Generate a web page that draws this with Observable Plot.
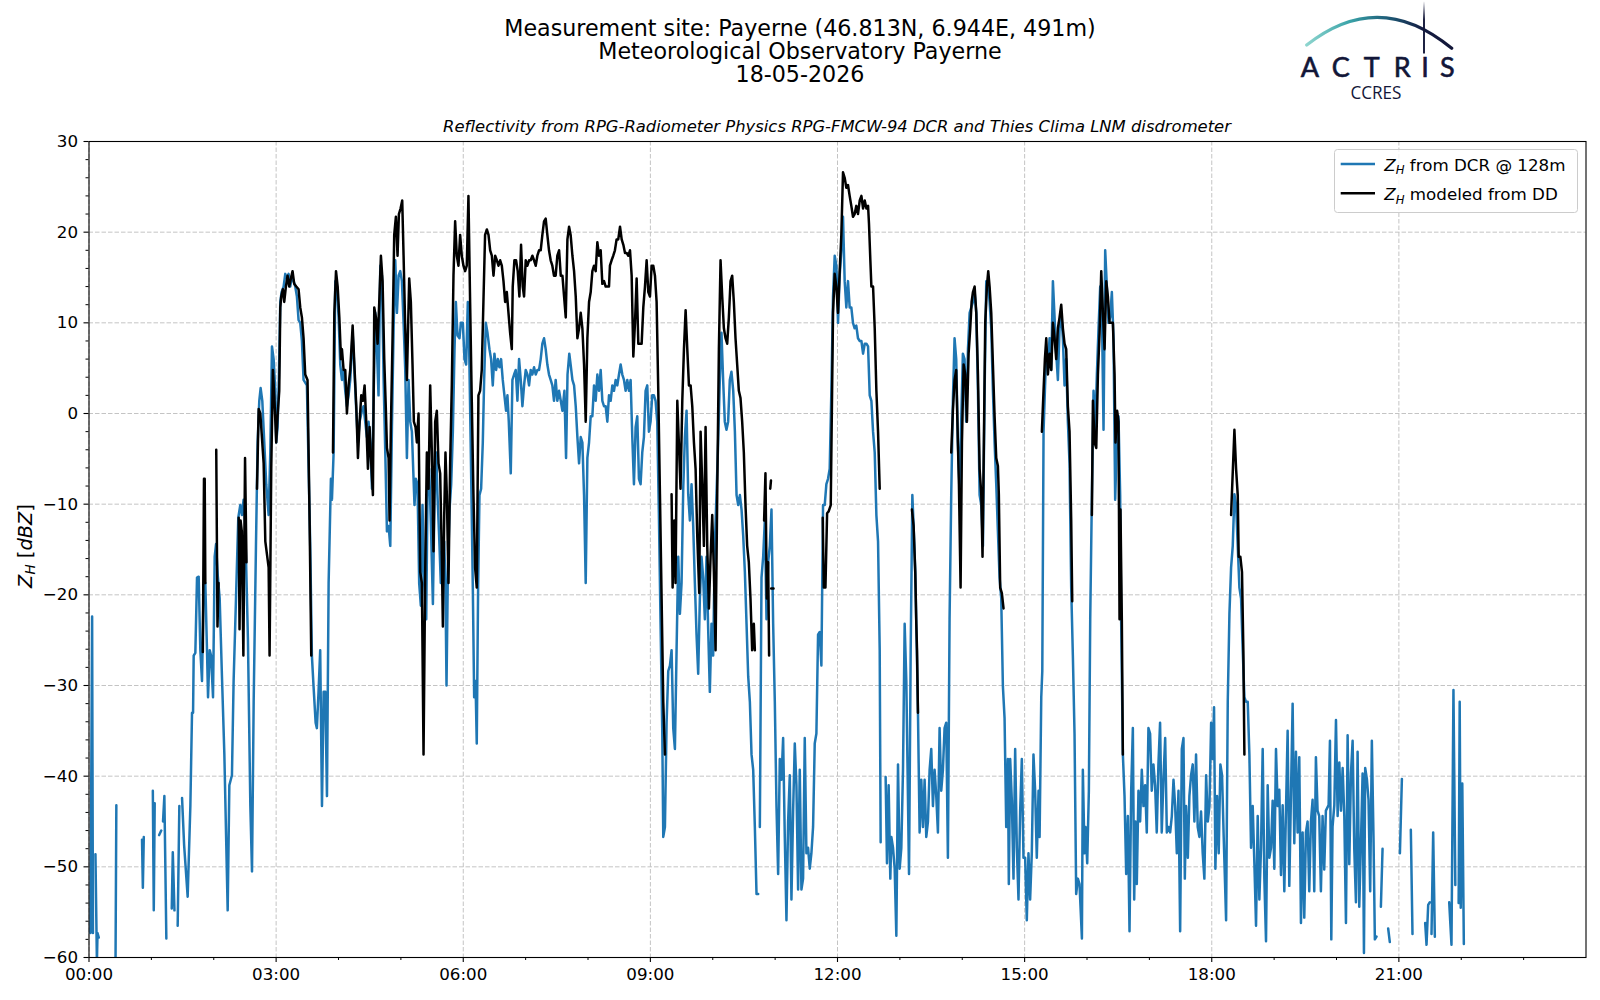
<!DOCTYPE html>
<html>
<head>
<meta charset="utf-8">
<script src="https://cdn.jsdelivr.net/npm/d3@7"></script>
<script src="https://cdn.jsdelivr.net/npm/@observablehq/plot@0.6"></script>
<style>
  html, body { margin: 0; padding: 0; background: #fff; overflow: hidden; }
  #wrap { position: relative; width: 1600px; height: 1000px; }
  #chart { position: absolute; left: 0; top: 0; }
  #overlay { position: absolute; left: 0; top: 0; pointer-events: none; }
  text { font-family: "DejaVu Sans", sans-serif; }
</style>
</head>
<body>
<div id="wrap">
  <div id="chart"></div>
  <svg id="overlay" width="1600" height="1000" xmlns="http://www.w3.org/2000/svg">
    <defs>
      <linearGradient id="arcGrad" x1="1306" y1="0" x2="1452" y2="0" gradientUnits="userSpaceOnUse">
        <stop offset="0" stop-color="#8fd6cf"/>
        <stop offset="0.3" stop-color="#3aa3a8"/>
        <stop offset="0.55" stop-color="#1f5f7a"/>
        <stop offset="0.8" stop-color="#141c42"/>
        <stop offset="1" stop-color="#121638"/>
      </linearGradient>
      <linearGradient id="barGrad" x1="0" y1="1" x2="0" y2="54" gradientUnits="userSpaceOnUse">
        <stop offset="0" stop-color="#121638" stop-opacity="0"/>
        <stop offset="0.35" stop-color="#121638" stop-opacity="1"/>
        <stop offset="1" stop-color="#121638" stop-opacity="1"/>
      </linearGradient>
    </defs>
    <!-- titles -->
    <text x="800" y="36.2" text-anchor="middle" font-size="22.2">Measurement site: Payerne (46.813N, 6.944E, 491m)</text>
    <text x="800" y="58.9" text-anchor="middle" font-size="22.2">Meteorological Observatory Payerne</text>
    <text x="800" y="82" text-anchor="middle" font-size="22.2">18-05-2026</text>
    <text x="837" y="131.5" text-anchor="middle" font-size="16.4" font-style="italic">Reflectivity from RPG-Radiometer Physics RPG-FMCW-94 DCR and Thies Clima LNM disdrometer</text>
    <!-- y label -->
    <text transform="translate(31.5,546) rotate(-90)" text-anchor="middle" font-size="19.4"><tspan font-style="italic">Z</tspan><tspan font-style="italic" font-size="13.6" dy="3.8">H</tspan><tspan dy="-3.8"> [</tspan><tspan font-style="italic">dBZ</tspan><tspan>]</tspan></text>
    <!-- legend -->
    <rect x="1334.5" y="149.5" width="243" height="63" rx="3" ry="3" fill="#fff" fill-opacity="0.8" stroke="#cccccc" stroke-width="1"/>
    <line x1="1340.7" y1="164" x2="1375" y2="164" stroke="#1f77b4" stroke-width="2.5"/>
    <line x1="1340.7" y1="193.3" x2="1375" y2="193.3" stroke="#000" stroke-width="2.5"/>
    <text x="1384.3" y="170.6" font-size="16.7"><tspan font-style="italic">Z</tspan><tspan font-style="italic" font-size="11.7" dy="3.3">H</tspan><tspan dy="-3.3"> from DCR @ 128m</tspan></text>
    <text x="1384.3" y="200.3" font-size="16.7"><tspan font-style="italic">Z</tspan><tspan font-style="italic" font-size="11.7" dy="3.3">H</tspan><tspan dy="-3.3"> modeled from DD</tspan></text>
    <!-- logo -->
    <path d="M1306.7,45 Q1379,-12 1451.7,48.3" fill="none" stroke="url(#arcGrad)" stroke-width="3.2" stroke-linecap="round"/>
    <line x1="1424" y1="1.5" x2="1424" y2="53.5" stroke="url(#barGrad)" stroke-width="1.9"/>
    <text x="1310 1340.7 1371.7 1402.3 1425 1447.3" y="76.5" text-anchor="middle" font-size="27" fill="#121638" stroke="#121638" stroke-width="0.6" style="font-family: Lato, 'Open Sans', sans-serif;">ACTRIS</text>
    <text x="1376" y="99.3" text-anchor="middle" font-size="17.5" fill="#121638" textLength="51" lengthAdjust="spacingAndGlyphs" style="font-family: 'Open Sans', sans-serif;">CCRES</text>
  </svg>
</div>
<script>
// ---- tick values & labels ----
const xMajorTicks = [0, 180, 360, 540, 720, 900, 1080, 1260];
const xTickLabels = ["00:00", "03:00", "06:00", "09:00", "12:00", "15:00", "18:00", "21:00"];
const xMinorTicks = [60, 120, 240, 300, 420, 480, 600, 660, 780, 840, 960, 1020, 1140, 1200, 1320, 1380];
const yMajorTicks = [-60, -50, -40, -30, -20, -10, 0, 10, 20, 30];
const yMinorTicks = [-58,-56,-54,-52,-48,-46,-44,-42,-38,-36,-34,-32,-28,-26,-24,-22,-18,-16,-14,-12,-8,-6,-4,-2,2,4,6,8,12,14,16,18,22,24,26,28];

// ---- series: [minutes since 00:00 UTC, dBZ]; null = gap ----
const dcrZH = [
[1.4,-57.3],[3.0,-22.4],[3.8,-57.3],null,
[6.2,-48.6],[7.6,-60.5],[8.2,-57.3],[9.4,-57.8],null,
[25.5,-61],[26.3,-43.2],null,
[51.0,-47.0],[51.8,-52.3],[52.7,-46.7],null,
[61.4,-41.6],[62.3,-54.8],[63.2,-43.0],null,
[67.5,-46.5],[69.5,-46.0],null,
[71.2,-45.0],[72.5,-42.2],[74.4,-57.9],null,
[79.6,-54.6],[80.6,-48.4],[82.2,-54.8],null,
[85.3,-56.5],[86.9,-43.3],null,
[89.5,-42.4],[91.5,-47.6],[94.9,-53.3],[97.5,-43.3],[99.1,-33.0],[100.1,-33.0],[100.7,-26.7],[102.3,-26.4],[103.9,-18.1],[105.5,-18.0],[107.1,-26.1],[108.7,-29.5],[110.3,-19.0],[111.9,-18.7],[113.5,-26.1],[114.5,-31.3],[116.1,-26.1],[117.4,-26.7],[119.3,-31.3],[120.9,-15.8],[122.2,-14.4],[123.8,-17.8],[125.7,-20.4],[127.9,-29.0],[130.2,-37.6],[133.4,-54.8],[135.0,-41.0],[137.5,-39.9],[139.1,-29.5],[141.4,-20.4],[143.6,-11.5],[145.5,-10.1],[147.1,-11.2],[148.7,-9.5],[150.3,-12.4],[152.9,-25.0],[155.2,-43.3],[156.8,-50.5],[158.4,-31.8],[160.6,-14.6],[162.2,-3.2],[163.8,1.4],[165.1,2.8],[166.7,1.4],[168.6,-3.2],[170.5,-7.8],[172.8,-11.2],[174.4,-4.3],[176.0,7.4],[177.6,6.0],[179.2,2.5],[180.1,-3.2],[181.4,-1.5],[182.7,4.3],[184.0,12.3],[185.3,13.4],[187.2,14.0],[188.8,15.4],[190.4,14.9],[192.0,15.4],[193.6,14.0],[195.2,15.2],[196.8,14.6],[198.4,14.0],[200.0,12.9],[201.6,10.3],[203.2,10.0],[204.8,8.0],[206.4,3.7],[209.6,3.1],[212.8,-14.6],[214.4,-26.7],[216.0,-30.1],[218.0,-34.1],[219.2,-34.7],[220.8,-30.7],[222.4,-26.1],[224.1,-43.3],[225.7,-30.7],[227.3,-30.7],[228.9,-42.2],[230.5,-18.7],[232.7,-7.2],[233.7,-9.5],[235.3,-4.3],[236.9,14.6],[238.5,14.0],
[240.1,10.6],[241.7,5.4],[243.3,3.7],[244.9,4.8],[246.5,2.5],[248.1,0.8],[249.7,2.0],[251.3,3.7],[253.6,8.9],[255.5,4.3],[257.1,0.3],[258.7,-3.2],[260.3,-0.9],[262.5,0.3],[264.1,0.8],[265.7,-0.9],[267.3,-2.6],[268.9,-0.9],[270.5,-3.2],[272.2,-8.3],[273.7,1.4],[275.4,11.1],[277.0,7.1],[278.5,2.0],[280.2,16.3],[281.8,15.2],[283.4,3.7],[285.0,-4.3],[286.6,-13.0],[288.2,-12.4],[289.8,-14.6],[291.4,-1.5],[293.0,9.4],[294.6,16.9],[296.2,11.1],[297.8,15.2],[299.4,15.7],[301.0,14.6],[302.6,10.0],[304.2,4.8],[305.8,-4.9],[307.4,3.7],[309.0,-0.9],[310.6,-2.0],[312.2,-7.2],[313.1,-10.1],[314.4,-7.2],[316.0,-7.8],[317.6,-18.7],[319.2,-21.2],[320.8,-10.1],[322.4,-18.7],[324.4,-22.7],[325.6,-9.0],[327.2,-6.1],[328.8,-11.8],[330.8,-21.0],[332.4,-9.0],[334.0,-4.3],[335.2,-9.0],[336.8,-13.5],[338.4,-18.7],[340.0,-14.6],[341.7,-14.1],[342.9,-19.2],[343.9,-30.0],[345.2,-17.5],[346.8,-10.6],[348.4,-7.8],[350.0,-2.0],[351.6,7.1],[352.9,12.3],[354.5,8.6],[356.4,8.3],[357.7,10.0],[359.6,10.0],[361.2,6.0],[362.8,5.4],[364.4,12.3],[365.7,7.1],[367.3,-4.3],[369.2,-19.2],[370.5,-31.3],[371.8,-29.5],[373.0,-36.4],[374.3,-19.2],[375.6,-9.0],[377.2,-8.3],[378.8,-3.2],[380.1,3.7],[381.7,10.0],[383.3,8.9],[385.2,7.1],[386.8,6.0],[388.4,3.1],[390.0,6.6],[391.6,4.8],[393.2,6.0],[394.8,5.1],[396.4,6.0],[398.0,3.7],[399.6,2.0],[401.2,0.3],[402.5,2.0],[403.8,-0.9],[405.7,-6.6],[407.3,3.7],[408.9,4.3],[410.5,4.8],[412.1,1.4],[413.7,6.0],[415.3,3.7],[416.9,0.8],[418.5,3.1],[420.1,4.8],[421.7,4.3],[423.3,3.1],[424.9,4.8],[426.5,4.3],[428.1,5.1],[429.7,4.3],[431.3,4.8],[432.9,4.8],[434.5,6.0],[436.1,7.7],[437.7,8.3],[439.3,7.1],[440.9,5.4],[442.5,4.3],[444.1,3.7],[445.7,3.1],[447.3,1.4],[448.9,3.7],[450.5,1.4],[452.2,2.5],[453.8,1.4],[455.4,0.3],[457.3,2.5],[458.9,-4.9],[460.3,4.3],[462.0,6.6],[463.3,5.4],[465.0,3.7],[466.6,3.1],[468.2,0.8],[469.8,-2.6],[471.4,-5.5],[473.0,-2.6],[474.6,-3.2],[476.2,-9.0],[477.8,-18.7],[479.4,-4.9],[481.0,-3.2],[482.6,-0.3],[484.2,-0.3],[485.8,3.1],[487.4,1.4],[489.0,4.3],[490.6,2.5],[492.2,4.8],[493.8,1.4],[495.4,0.8],[497.0,0.8],[498.6,-0.9],[500.2,2.0],[501.8,1.4],[503.4,3.1],[505.0,2.5],[506.6,3.7],[508.2,3.1],[509.8,4.3],[511.4,5.4],[513.0,4.3],[514.6,3.7],[516.2,2.5],[517.8,3.7],[519.4,2.5],[521.0,3.7],[522.6,-2.6],[524.2,-7.8],[525.8,-1.5],[527.4,-0.3],[529.0,-7.2],[530.6,-7.8],[532.2,-4.3],[533.8,-2.6],[535.4,2.5],[537.0,3.1],[538.6,-2.0],[540.2,-0.9],[541.8,2.0],[543.4,2.0],[545.0,1.4],[546.6,-0.9],[548.2,-11.2],[549.8,-23.2],[551.4,-34.7],[552.4,-46.7],[554.0,-45.6],[555.6,-34.1],[557.2,-28.4],[558.8,-27.8],[560.4,-26.1],[562.0,-34.7],[563.6,-37.0],[565.2,-26.1],[566.8,-15.8],[568.4,-22.1],[570.0,-18.7],[571.6,-8.3],[573.2,-2.6],[574.8,0.3],[576.4,-8.9],[578.0,-11.8],[579.6,-7.8],[581.2,-12.4],[582.8,-18.7],[584.4,-24.4],[586.0,-28.7],[587.6,-20.4],[589.2,-15.8],[590.8,-18.1],[592.4,-22.7],[594.0,-15.8],[595.6,-23.8],[597.2,-30.7],[598.8,-23.2],[600.4,-26.7],[602.0,-14.6],[603.6,-9.0],[605.2,-3.2],[606.8,3.7],[608.4,8.9],[610.0,3.7],[611.6,-0.9],[613.2,-1.8],[614.8,-0.9],[616.4,3.7],[618.0,4.6],[619.7,2.5],[621.3,-2.0],[622.9,-9.0],[624.5,-10.1],[626.1,-9.0],[627.7,-10.6],[629.3,-13.5],[630.9,-17.5],[632.5,-23.2],[634.1,-29.0],[635.7,-31.8],[637.3,-37.6],[638.9,-39.3],[640.5,-45.6],[642.1,-53.0],[643.7,-53.0],null,
[645.3,-45.6],[646.9,-18.1],[648.5,-15.8],[650.1,-11.8],[651.7,-22.7],[653.3,-16.4],[654.9,-14.6],[656.5,-10.6],[658.1,-23.2],[659.7,-31.8],[661.3,-43.3],[662.9,-50.8],[664.5,-38.1],[666.1,-40.4],[667.7,-35.8],[669.3,-46.7],[670.9,-55.9],[672.5,-45.0],[674.1,-39.9],[675.7,-53.6],[677.3,-43.9],[678.9,-36.4],[680.5,-41.0],[682.1,-52.5],[683.7,-39.3],[685.3,-52.5],[686.9,-51.3],[688.5,-35.8],[690.1,-48.5],[691.7,-47.9],[693.3,-50.2],[694.9,-48.5],[696.5,-45.6],[698.1,-36.4],[699.7,-35.3],[701.3,-24.4],[702.9,-24.1],[704.5,-27.8],[706.1,-10.1],[707.7,-10.1],[709.3,-7.8],[710.9,-7.2],[712.5,-6.1],[714.1,2.5],[715.7,12.9],[717.3,17.4],[718.9,16.3],[720.5,10.0],[722.1,15.2],[723.7,18.0],[725.3,21.7],[726.9,14.6],[728.5,11.7],[730.1,14.6],[731.7,11.7],[733.3,11.7],[734.9,10.0],[736.5,9.4],[738.1,9.7],[739.7,8.3],[741.4,8.0],[743.0,8.0],[744.6,6.6],[746.2,7.7],[747.8,7.7],[749.4,7.4],[751.0,2.0],[752.6,1.4],[754.2,-2.0],[755.8,-4.3],[757.4,-11.2],[759.0,-14.1],[760.6,-26.1],[761.5,-47.3],null,
[766.3,-40.1],[767.6,-49.6],[769.2,-41.0],[770.8,-51.3],[771.8,-46.7],[773.4,-47.9],[775.0,-50.2],[776.6,-57.6],[778.2,-38.7],[779.8,-50.2],[781.4,-47.9],[783.0,-39.3],[784.6,-23.2],[786.2,-29.5],[788.8,-50.8],[790.4,-26.1],[792.0,-9.0],[793.2,-12.4],[794.8,-17.5],[796.4,-26.7],[797.4,-33.0],[799.0,-46.2],[800.6,-40.4],[802.2,-45.6],[803.8,-40.4],[805.4,-46.7],[807.0,-45.0],[808.6,-39.3],[810.2,-37.0],[811.8,-43.3],[813.4,-39.3],[815.0,-42.2],[816.6,-46.2],[818.2,-34.7],[819.8,-41.6],[821.4,-39.3],[823.0,-34.7],[824.6,-34.1],[826.2,-49.0],[827.8,-22.7],[829.4,-9.0],[831.0,1.4],[832.6,8.3],[834.2,6.0],[835.8,-3.2],[837.4,-8.3],[839.0,-0.9],[840.6,6.6],[842.2,6.0],[843.8,-0.9],[845.5,7.1],[847.1,11.1],[848.7,11.7],[850.3,12.3],[851.9,13.4],[853.5,11.1],[855.1,2.5],[856.7,-9.0],[858.3,-10.1],[859.9,-14.6],[861.5,2.5],[863.1,14.6],[864.7,14.6],[866.3,12.3],[867.9,9.4],[869.5,2.5],[871.1,-3.2],[872.7,-7.8],[874.3,-13.0],[875.9,-18.1],[877.5,-20.4],[879.1,-30.1],[880.7,-33.6],[882.3,-45.6],[883.9,-38.1],[884.8,-51.9],[886.1,-38.1],[887.7,-42.7],[889.3,-51.3],[890.9,-37.0],[892.5,-47.9],[894.1,-53.6],[895.7,-43.9],[897.3,-38.1],[898.9,-49.0],[900.5,-49.0],[902.1,-55.9],[903.7,-48.5],[905.3,-53.6],[906.9,-48.5],[908.5,-37.6],[910.1,-41.6],[911.7,-49.0],[913.4,-41.6],[914.4,-46.7],[916.0,-31.3],[917.0,-28.4],[918.2,-2.0],[919.5,2.5],[920.8,6.6],[922.4,5.4],[924.0,8.3],[925.6,4.8],[927.2,14.6],[928.8,10.6],[930.4,6.6],[932.0,3.7],[933.6,9.4],[935.2,11.1],[936.8,8.3],[938.4,3.1],[940.0,6.0],[941.6,-0.9],[943.2,-5.5],[944.8,-19.2],[946.4,-26.7],[948.0,-35.3],[949.6,-53.0],[951.2,-51.3],[952.8,-51.9],[955.1,-57.9],[956.0,-39.3],[957.6,-48.5],[958.6,-45.6],[960.2,-49.6],[961.8,-41.6],[963.1,-22.7],[964.7,-9.0],[966.3,2.5],[967.9,-2.0],[969.5,4.3],[971.1,9.4],[972.7,14.0],[974.3,11.7],[975.9,-1.8],[977.5,18.0],[979.1,14.0],[980.7,10.0],[982.3,10.6],[983.9,13.4],[985.5,8.3],[987.1,-9.5],[988.7,-3.2],[990.3,-0.3],[991.9,-9.0],[992.9,-23.2],[994.5,-37.6],[996.1,-42.2],[997.7,-50.8],[999.3,-44.4],[1000.9,-57.1],[1002.5,-41.6],[1004.1,-34.7],[1005.4,-53.6],[1006.6,-45.0],[1007.9,-51.9],[1009.5,-41.6],[1011.1,-45.0],[1012.7,-39.3],[1014.3,-43.3],[1015.9,-41.0],[1017.5,-46.2],[1019.1,-34.7],[1020.7,-35.3],[1022.3,-41.6],[1023.9,-38.7],[1025.5,-41.0],[1027.1,-46.2],[1028.7,-38.7],[1030.3,-34.1],[1031.9,-46.2],[1033.5,-40.4],[1035.2,-35.8],[1036.8,-46.2],[1038.4,-45.6],[1040.0,-46.2],[1041.6,-44.4],[1043.2,-40.4],[1044.8,-43.3],[1046.4,-48.5],[1048.0,-41.6],[1049.6,-57.1],[1051.2,-37.0],[1052.8,-35.8],[1054.1,-51.3],[1055.3,-43.3],[1057.0,-49.0],[1058.5,-42.2],[1060.1,-39.9],[1061.7,-38.7],[1063.3,-45.0],[1064.9,-37.6],[1066.5,-45.6],[1068.1,-46.7],[1069.7,-43.9],[1071.3,-48.5],[1072.9,-51.3],[1074.6,-39.9],[1076.2,-45.0],[1077.8,-43.3],[1079.4,-34.1],[1081.0,-38.1],[1082.2,-32.4],[1083.5,-50.2],[1085.1,-42.2],[1086.7,-48.5],[1088.3,-38.7],[1089.9,-39.9],[1091.5,-46.7],[1093.8,-55.9],[1095.4,-31.8],[1097.0,-22.1],[1098.6,-17.0],[1100.2,-14.6],[1101.8,-8.9],[1103.4,-10.1],[1105.0,-14.6],[1106.6,-19.2],[1108.2,-20.4],[1109.8,-26.1],[1111.4,-31.3],[1113.0,-31.8],[1114.6,-31.8],[1116.2,-37.6],[1117.8,-47.9],[1119.4,-43.3],[1121.0,-49.6],[1122.6,-56.5],[1124.2,-44.4],[1125.8,-53.6],[1127.4,-47.9],[1129.0,-37.0],[1130.6,-51.3],[1132.2,-58.2],[1133.8,-41.0],[1135.4,-49.0],[1137.0,-47.9],[1138.6,-42.7],[1140.2,-50.2],[1141.8,-37.0],[1143.4,-43.3],[1145.0,-41.5],[1146.6,-50.9],[1148.2,-43.2],[1149.8,-52.7],[1151.4,-43.8],[1153.0,-35.0],[1154.6,-52.1],[1156.2,-42.0],[1157.8,-32.0],[1159.4,-47.4],[1161.0,-37.3],[1162.6,-46.2],[1164.2,-37.9],[1165.8,-56.2],[1167.4,-46.2],[1169.0,-55.6],[1170.6,-46.2],[1172.2,-45.0],[1173.8,-52.7],[1175.4,-45.0],[1177.0,-42.6],[1178.6,-52.7],[1180.2,-37.9],[1181.8,-43.8],[1183.4,-44.4],[1185.0,-52.7],[1186.6,-44.4],[1188.2,-50.3],[1189.8,-43.8],[1192.4,-43.2],[1193.7,-36.1],[1195.0,-58.0],[1196.2,-45.6],[1197.9,-43.2],[1199.5,-33.8],[1201.1,-44.4],[1202.7,-38.5],[1204.3,-43.8],[1205.9,-39.1],[1207.5,-44.4],[1209.1,-56.2],[1210.7,-35.5],[1212.3,-49.7],[1213.9,-39.7],[1215.5,-36.1],[1217.1,-48.0],[1218.7,-53.9],[1220.3,-37.3],[1221.9,-54.4],[1223.5,-47.4],[1225.1,-39.7],[1226.4,-59.5],[1227.6,-39.1],[1229.2,-40.3],[1230.8,-42.6],[1232.4,-52.7],[1234.0,-36.1],[1235.6,-46.8],[1236.9,-58.0],[1238.5,-57.7],null,
[1242.7,-54.4],[1244.3,-48.0],null,
[1249.7,-56.8],[1251.3,-58.3],null,
[1261.0,-48.5],[1262.9,-40.3],null,
[1271.5,-45.9],[1273.1,-57.4],null,
[1285.3,-56.2],[1286.6,-58.6],[1288.2,-54.2],[1289.8,-53.9],null,
[1291.4,-57.4],[1293.0,-46.2],[1294.6,-57.7],null,
[1308.4,-53.9],[1310.6,-58.6],[1312.5,-30.5],[1314.3,-52.0],null,
[1317.5,-54.0],[1318.5,-31.8],[1319.5,-54.5],[1321.0,-40.8],[1322.5,-58.5]
];

const ddZH = [
[109.5,-26.3],[110.6,-7.2],[111.3,-7.2],[111.9,-18.7],null,
[122.4,-4.0],[123.6,-23.5],[124.6,-18.7],null,
[144.0,-11.5],[144.8,-23.8],[145.8,-11.8],[147.0,-13.0],[148.5,-26.7],[150.1,-4.9],[151.5,-16.4],null,
[161.6,-8.3],[163.2,0.5],[164.8,0.0],[168.0,-5.5],[169.6,-14.1],[172.8,-17.0],[173.7,-26.7],[175.3,-6.1],[176.9,4.8],[178.2,2.0],[180.1,-3.2],[181.4,-0.3],[183.0,2.5],[184.0,11.7],[184.9,12.9],[186.5,13.7],[187.8,12.3],[189.4,14.0],[191.0,15.2],[192.6,14.0],[194.2,14.9],[195.8,15.7],[197.4,14.3],[199.4,14.0],[201.6,13.7],[203.2,11.7],[204.8,10.6],[206.4,8.3],[208.0,4.3],[210.2,3.7],[212.2,-11.8],[213.8,-26.7],null,
[234.7,-4.3],[236.0,11.1],[237.6,15.7],[239.2,14.0],[240.8,10.6],[242.4,6.0],[243.3,7.1],[244.9,4.8],[246.5,4.8],[248.1,0.0],[249.7,3.1],[251.3,4.8],[253.6,9.7],[255.5,4.8],[257.1,0.8],[258.7,-4.9],[260.3,-0.9],[261.9,2.0],[263.5,1.4],[265.1,3.1],[266.7,-0.9],[268.3,-6.1],[269.9,-1.5],[271.5,-5.5],[273.1,-9.0],[274.4,11.7],[276.0,10.6],[277.6,7.7],[279.2,12.3],[280.8,17.4],[282.4,14.6],[284.0,6.0],[285.6,0.3],[286.6,-3.8],[288.2,-4.9],[289.1,-11.8],[290.4,-1.5],[292.0,8.3],[293.6,19.7],[295.2,21.7],[296.8,17.4],[298.1,22.0],[299.7,22.6],[301.3,23.5],[302.6,17.4],[304.2,9.4],[305.8,3.7],[306.7,8.3],[308.0,14.9],[309.6,12.3],[311.2,5.4],[312.5,-0.9],[314.1,-1.5],[315.4,-3.2],[317.0,0.0],[318.6,-17.5],[320.2,-18.7],[321.8,-37.6],[323.4,-17.5],[325.0,-4.3],[326.6,-8.3],[328.2,3.1],[329.8,-4.3],[331.4,-15.2],[333.0,-0.9],[334.6,0.3],[336.2,-5.5],[337.8,-6.6],[339.4,-15.8],[340.4,-23.5],[341.7,-11.2],[342.9,-4.3],[344.2,-8.9],[345.8,-18.7],[347.4,-5.5],[349.0,3.1],[350.6,15.2],[352.2,21.2],[353.8,17.4],[355.4,16.3],[357.0,19.7],[358.6,17.4],[360.2,16.3],[361.8,15.7],[363.4,16.3],[365.0,24.0],[366.6,12.3],[368.2,1.4],[369.8,-8.9],[371.4,-17.0],[373.0,-19.2],[374.6,2.0],[376.2,2.5],[377.8,4.8],[379.4,12.3],[381.0,19.7],[382.7,20.3],[384.3,19.7],[385.9,18.0],[387.5,17.4],[389.1,15.2],[390.7,17.4],[392.3,16.9],[393.9,16.3],[395.5,16.9],[397.1,16.3],[398.7,14.6],[400.3,12.3],[401.9,13.4],[403.5,11.1],[405.1,8.9],[406.7,7.1],[407.6,14.0],[409.2,16.9],[410.8,16.9],[412.4,15.7],[414.0,12.9],[415.6,18.6],[417.2,14.0],[418.5,12.9],[420.1,16.9],[421.7,16.3],[423.3,16.9],[424.9,16.9],[426.5,17.4],[428.1,16.9],[429.7,16.3],[431.3,17.4],[432.9,18.0],[434.5,18.0],[436.1,19.7],[437.7,21.2],[439.3,21.5],[440.9,19.7],[442.5,18.0],[444.1,16.9],[445.7,16.3],[447.3,15.2],[448.9,15.2],[450.5,17.4],[452.2,18.0],[453.8,15.2],[455.4,15.2],[457.0,12.9],[458.6,10.6],[460.2,19.2],[461.8,20.6],[463.3,19.7],[465.0,17.4],[466.6,15.7],[468.2,12.9],[469.8,8.3],[471.4,9.4],[473.0,11.1],[474.6,9.4],[476.2,5.4],[477.8,-0.9],[479.4,8.3],[481.0,12.3],[482.6,13.4],[484.2,15.7],[485.8,16.3],[487.4,15.7],[489.0,18.9],[490.6,17.4],[492.2,18.0],[493.8,14.3],[495.4,14.6],[497.0,14.0],[498.6,14.0],[500.2,14.0],[501.1,16.3],[502.7,16.9],[504.3,17.4],[505.9,18.0],[507.5,19.2],[509.1,19.2],[510.8,20.6],[512.4,19.2],[514.0,18.6],[515.6,17.7],[517.2,17.7],[518.8,17.4],[520.4,18.0],[522.0,15.2],[523.6,6.3],[525.2,10.0],[526.8,14.9],[528.4,7.7],[530.0,7.7],[531.6,7.7],[533.2,11.7],[534.8,14.0],[536.4,16.9],[538.0,13.4],[539.6,12.9],[541.2,16.3],[542.8,16.3],[544.4,15.2],[546.0,12.3],[547.6,2.5],[549.2,-8.9],[550.8,-20.4],[552.4,-31.8],[554.0,-37.6],null,
[560.4,-8.9],[561.4,-19.2],[563.0,-11.8],[564.2,-18.7],[565.9,1.4],[567.4,-3.2],[569.0,-8.3],[570.7,1.4],[572.3,7.1],[573.9,11.4],[575.5,7.1],[577.1,3.1],[578.7,3.1],[580.3,0.8],[581.9,-3.2],[583.5,-6.1],[585.1,-13.5],[587.0,-19.8],[588.3,-2.0],[589.9,-7.8],[591.5,-14.6],[593.1,-1.5],[594.7,-14.6],[596.3,-21.5],[597.9,-15.8],[599.5,-11.2],[601.1,-17.5],[602.7,-26.1],[604.3,-8.9],[605.9,7.1],[607.5,16.9],[609.1,12.9],[610.7,9.4],[612.3,8.3],[613.9,7.7],[615.5,10.6],[617.1,14.6],[618.7,15.2],[620.3,12.3],[621.9,8.3],[623.5,5.4],[625.1,2.5],[626.7,1.7],[628.3,-0.9],[629.9,-4.3],[631.5,-10.1],[633.1,-14.6],[634.7,-16.4],[636.3,-20.4],[637.9,-26.1],[639.5,-23.2],[640.5,-26.1],null,
[649.4,-11.8],[650.7,-6.6],[652.0,-20.4],[653.3,-16.4],[654.2,-26.7],null,
[655.3,-8.3],[656.0,-7.4],null,
[656.2,-19.3],[658.5,-19.3],null,
[705.8,-11.5],[706.8,-19.2],[708.4,-19.2],[710.0,-11.0],[711.5,-10.8],[713.5,-10.1],[714.8,2.5],[715.7,11.1],[717.3,15.4],[718.9,14.0],[720.5,11.1],[722.1,15.7],[723.7,19.7],[725.3,26.6],[726.9,26.0],[728.5,24.9],[730.1,25.2],[731.7,24.0],[733.3,22.9],[734.9,21.7],[736.5,22.0],[738.1,22.9],[739.7,22.0],[741.4,23.5],[743.0,24.0],[744.6,22.6],[746.2,23.5],[747.8,22.6],[749.4,22.9],[750.3,20.9],[751.6,16.9],[752.6,14.0],[754.2,14.0],[755.8,9.4],[757.4,2.5],[759.0,-2.0],[760.6,-8.3],null,
[791.6,-10.6],[793.2,-12.4],[794.8,-17.5],[795.8,-23.2],[796.5,-26.1],[797.4,-33.0],null,
[829.4,-4.3],[831.0,0.3],[832.6,3.7],[834.2,4.8],[835.8,-3.2],[836.8,-7.8],[838.4,-19.2],[839.7,-3.2],[841.3,5.4],[842.9,4.3],[844.5,-0.9],[846.1,6.6],[847.7,9.4],[849.0,12.3],[850.3,13.4],[851.9,14.0],[853.5,11.1],[855.1,4.3],[856.7,-6.1],[858.3,-8.9],[859.5,-15.8],[860.8,-3.2],[862.1,10.0],[863.7,14.0],[865.0,15.7],[866.3,14.0],[867.9,11.1],[869.5,5.4],[871.1,-0.3],[872.7,-4.9],[874.3,-5.8],[875.2,-8.9],[876.5,-19.2],[878.1,-19.8],[879.7,-21.5],null,
[916.6,-2.0],[918.2,2.5],[919.5,6.0],[920.8,8.3],[922.4,4.3],[924.0,6.6],[925.6,4.8],[927.2,10.0],[928.8,8.3],[930.4,6.0],[932.0,9.4],[933.6,10.6],[935.2,12.0],[936.8,9.4],[938.4,7.7],[940.0,7.1],[941.6,0.8],[943.2,-2.0],[944.8,-11.8],[945.8,-20.7],null,
[964.7,-11.2],[965.7,1.4],[967.3,-3.2],[968.9,-3.8],[970.5,4.3],[972.1,8.9],[973.7,15.7],[975.3,11.1],[976.9,7.1],[978.5,14.6],[980.1,12.9],[981.7,10.0],[983.3,10.0],[984.9,10.0],[986.5,4.3],[987.4,-3.2],[989.0,0.3],[990.3,-0.9],[991.3,-22.7],[992.2,-10.6],[993.5,-22.7],[994.5,-37.6],null,
[1098.6,-11.2],[1101.8,-1.8],[1103.4,-6.1],[1105.0,-9.0],[1105.9,-15.8],[1107.5,-15.8],[1109.1,-17.5],[1110.4,-26.1],[1111.4,-37.6]
];

const toRows = pairs => pairs.map(p => p ? {t: p[0], z: p[1]} : {t: NaN, z: NaN});
const dcrRows = toRows(dcrZH);
const ddRows = toRows(ddZH);

const fmtY = d => d < 0 ? "\u2212" + Math.abs(d) : String(d);
const fmtX = d => xTickLabels[xMajorTicks.indexOf(d)];

const gridStyle = {stroke: "#c4c4c4", strokeOpacity: 1, strokeWidth: 1, strokeDasharray: "4.5,2"};

const chart = Plot.plot({
  width: 1600,
  height: 1000,
  marginLeft: 88.5,
  marginRight: 14.5,
  marginTop: 141,
  marginBottom: 43,
  style: {fontFamily: "DejaVu Sans", fontSize: "16.7px", color: "#000", background: "transparent", overflow: "visible"},
  x: {domain: [0, 1440], label: null},
  y: {domain: [-60, 30], label: null},
  marks: [
    Plot.gridX(xMajorTicks, gridStyle),
    Plot.gridY(yMajorTicks, gridStyle),
    Plot.line(dcrRows, {x: "t", y: "z", stroke: "#1f77b4", strokeWidth: 2.5, clip: true}),
    Plot.line(ddRows, {x: "t", y: "z", stroke: "#000000", strokeWidth: 2.5, clip: true}),
    Plot.frame({stroke: "#000", strokeWidth: 1.1}),
    Plot.axisX(xMajorTicks, {tickSize: 5, tickPadding: 6, tickFormat: fmtX, label: null, stroke: "#000", fill: "#000", strokeWidth: 1.1}),
    Plot.axisX(xMinorTicks, {tickSize: 3, tickFormat: () => "", label: null, stroke: "#000", strokeWidth: 1}),
    Plot.axisY(yMajorTicks, {tickSize: 5, tickPadding: 6, tickFormat: fmtY, label: null, stroke: "#000", fill: "#000", strokeWidth: 1.1}),
    Plot.axisY(yMinorTicks, {tickSize: 3, tickFormat: () => "", label: null, stroke: "#000", strokeWidth: 1})
  ]
});
document.getElementById("chart").appendChild(chart);
</script>
</body>
</html>
